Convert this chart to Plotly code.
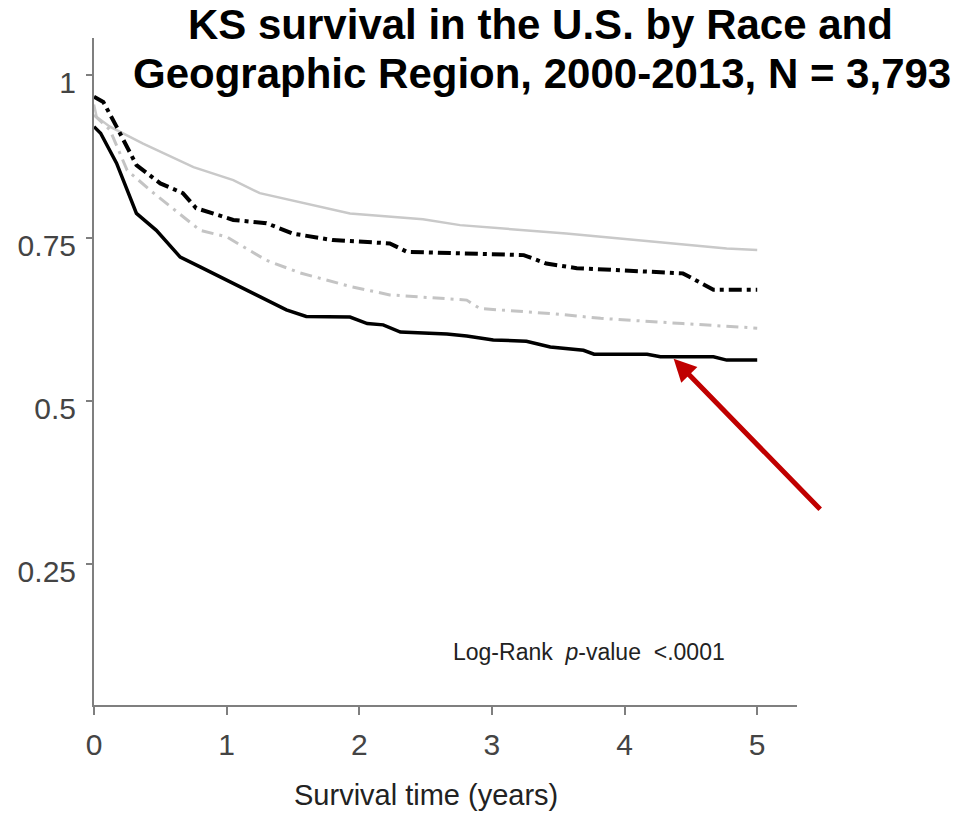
import plotly.graph_objects as go

# Kaplan-Meier survival estimates (years, survival probability)
t_gray_solid = [0, 0.02, 0.12, 0.37, 0.75, 1.05, 1.25, 1.43, 1.78, 1.93, 2.48, 2.76, 3.56, 4.27, 4.77, 5.0]
s_gray_solid = [0.955, 0.936, 0.921, 0.895, 0.859, 0.839, 0.819, 0.811, 0.795, 0.788, 0.779, 0.770, 0.757, 0.744, 0.734, 0.732]

t_black_dashdot = [0, 0.07, 0.17, 0.32, 0.5, 0.67, 0.77, 1.05, 1.3, 1.5, 1.8, 2.23, 2.36, 3.24, 3.41, 3.64, 4.44, 4.67, 5.0]
s_black_dashdot = [0.967, 0.959, 0.921, 0.862, 0.834, 0.819, 0.796, 0.778, 0.773, 0.757, 0.747, 0.742, 0.729, 0.724, 0.711, 0.704, 0.696, 0.671, 0.671]

t_gray_dashdot = [0, 0.12, 0.25, 0.45, 0.8, 1.0, 1.3, 1.55, 1.93, 2.23, 2.81, 2.91, 3.47, 3.82, 4.44, 5.0]
s_gray_dashdot = [0.939, 0.916, 0.854, 0.819, 0.762, 0.752, 0.716, 0.697, 0.676, 0.663, 0.655, 0.642, 0.634, 0.627, 0.619, 0.612]

t_black_solid = [0, 0.05, 0.17, 0.32, 0.47, 0.65, 0.8, 1.05, 1.3, 1.45, 1.6, 1.93, 2.06, 2.18, 2.31, 2.66, 2.81, 3.01, 3.26, 3.44, 3.69, 3.77, 4.17, 4.27, 4.67, 4.77, 5.0]
s_black_solid = [0.921, 0.911, 0.865, 0.788, 0.762, 0.721, 0.706, 0.681, 0.655, 0.640, 0.630, 0.629, 0.619, 0.617, 0.606, 0.603, 0.600, 0.594, 0.592, 0.583, 0.578, 0.572, 0.572, 0.568, 0.568, 0.563, 0.563]

x_ticks = [0, 1, 2, 3, 4, 5]
y_ticks = [0.25, 0.5, 0.75, 1]
y_tick_labels = ["0.25", "0.5", "0.75", "1"]

title_line1 = "KS survival in the U.S. by Race and"
title_line2 = "Geographic Region, 2000-2013, N = 3,793"
x_title = "Survival time (years)"
note = "Log-Rank  <i>p</i>-value  <.0001"

# arrow target (point on the lowest curve)
arrow_t, arrow_s = 4.37, 0.565

fig = go.Figure()
fig.add_trace(go.Scatter(x=t_gray_solid, y=s_gray_solid, mode="lines",
                         line=dict(color="#c9c9c9", width=2.5), name="Group 1"))
fig.add_trace(go.Scatter(x=t_gray_dashdot, y=s_gray_dashdot, mode="lines",
                         line=dict(color="#c4c4c4", width=3, dash="12px,6px,3px,6px"), name="Group 3"))
fig.add_trace(go.Scatter(x=t_black_dashdot, y=s_black_dashdot, mode="lines",
                         line=dict(color="#000000", width=4, dash="13px,5px,4px,5px"), name="Group 2"))
fig.add_trace(go.Scatter(x=t_black_solid, y=s_black_solid, mode="lines",
                         line=dict(color="#000000", width=3.5), name="Group 4"))

tick_font = dict(family="Liberation Sans, Arial", size=30, color="#444444")

fig.update_layout(
    width=979, height=813,
    margin=dict(l=94, r=182, t=38, b=108),
    plot_bgcolor="white", paper_bgcolor="white",
    showlegend=False,
    xaxis=dict(range=[0, 5.3], tickvals=x_ticks, ticktext=[str(v) for v in x_ticks],
               showgrid=False, zeroline=False, showline=True, linecolor="#7f7f7f", linewidth=2,
               ticks="outside", ticklen=8, tickwidth=1.5, tickcolor="#7f7f7f",
               tickfont=tick_font, ticklabelstandoff=4),
    yaxis=dict(range=[0.034, 1.057], tickvals=y_ticks, ticktext=y_tick_labels,
               showgrid=False, zeroline=False, showline=True, linecolor="#7f7f7f", linewidth=2,
               ticks="outside", ticklen=6, tickwidth=1.5, tickcolor="#7f7f7f",
               tickfont=tick_font, ticklabelshift=7, ticklabelstandoff=4),
)

fig.add_annotation(text="<b>" + title_line1 + "</b>", xref="paper", yref="paper",
                   x=(540 - 94) / 703, y=(705 - 24) / 667, xanchor="center", yanchor="middle", showarrow=False,
                   font=dict(family="Liberation Sans, Arial", size=42, color="#000000"))
fig.add_annotation(text="<b>" + title_line2 + "</b>", xref="paper", yref="paper",
                   x=(542 - 94) / 703, y=(705 - 73) / 667, xanchor="center", yanchor="middle", showarrow=False,
                   font=dict(family="Liberation Sans, Arial", size=42, color="#000000"))
fig.add_annotation(text=x_title, xref="x", yref="paper", x=2.5, y=-0.135,
                   xanchor="center", yanchor="middle", showarrow=False,
                   font=dict(family="Liberation Sans, Arial", size=29, color="#222222"))
fig.add_annotation(text=note, xref="x", yref="y", x=3.733, y=0.115,
                   xanchor="center", yanchor="middle", showarrow=False,
                   font=dict(family="Liberation Sans, Arial", size=23, color="#222222"))
fig.add_annotation(x=arrow_t, y=arrow_s, xref="x", yref="y", ax=148, ay=152,
                   text="", showarrow=True, arrowhead=2, arrowsize=0.9, arrowwidth=5,
                   arrowcolor="#c00000", standoff=0)

# remove the browser's default 8px body margin so the figure fills the window exactly
fig.write_html("out.html", config={"displayModeBar": False},
               post_script="document.body.style.margin='0';document.body.style.overflow='hidden';")
